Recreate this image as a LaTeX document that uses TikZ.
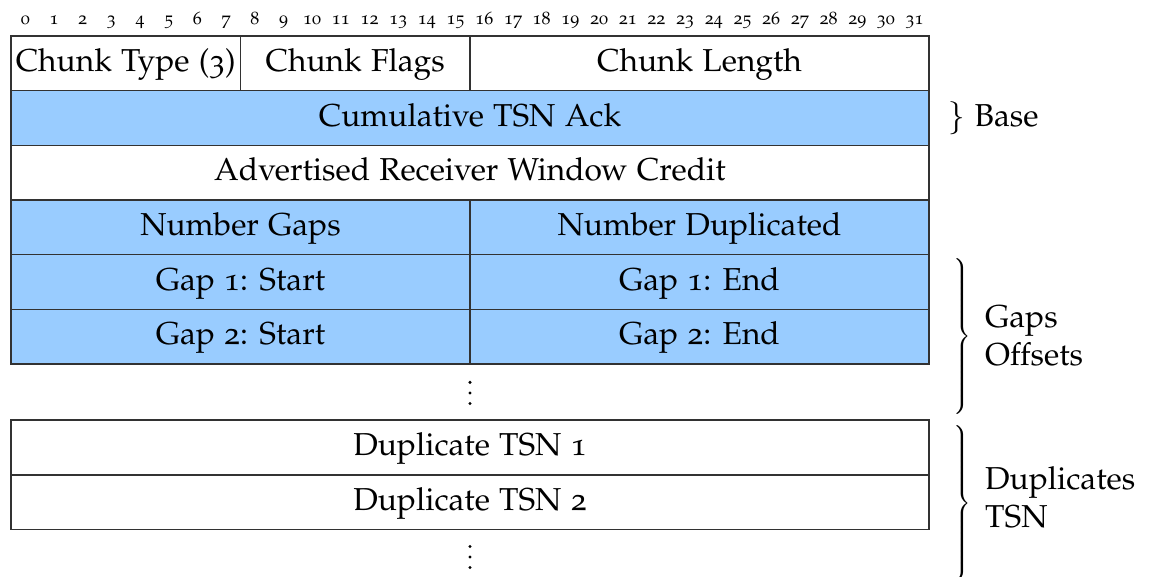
\documentclass[tikz,border=0pt]{standalone}
\usepackage[T1]{fontenc}
\usepackage[osf]{mathpazo}
\usepackage{graphicx}
\definecolor{fieldblue}{RGB}{153,204,255}
\definecolor{rulegray}{RGB}{50,50,50}
\newcommand\tallbrace[1]{\scalebox{2}{$\left.\vcenter{\hbox{\rule{0pt}{#1}}}\right\}$}}
\begin{document}
\begin{tikzpicture}[x=1pt,y=-1pt,
  cell/.style={draw=rulegray, line width=1.3pt, inner sep=0pt, anchor=center,
    font=\fontsize{31.7}{38}\selectfont, text height=16pt, text depth=0pt},
  shaded/.style={cell, fill=fieldblue},
  plain/.style={cell, fill=white},
  bitnum/.style={font=\fontsize{18}{20}\selectfont, inner sep=0pt, anchor=base},
  side/.style={font=\fontsize{31.7}{37.5}\selectfont, inner sep=0pt, align=left},
  dot/.style={circle, fill=black, inner sep=0pt, minimum size=3.4pt},
  bigbrace/.style={inner sep=0pt, anchor=west}]
\useasboundingbox (0,0) rectangle (1154,576);
\def\bw{28.6875}
\def\rh{54.667}
% bit numbers along the top
\foreach \i in {0,...,31}
  \node[bitnum] (b\i) at ({11+(\i+0.5)*\bw},24.5) {\i};
% a field spanning bits #2..#3 in the row whose top edge is at #4
\newcommand\fieldat[6]{%
  \node[#1, minimum width={(#3-#2)*\bw pt}, minimum height={\rh pt}]
    (#6) at ({11+(#2+#3)/2*\bw},{#4+\rh/2}) {#5};}
% header and base fields
\fieldat{plain}{0}{8}{36}{Chunk Type (3)}{ctype}
\fieldat{plain}{8}{16}{36}{Chunk Flags}{cflags}
\fieldat{plain}{16}{32}{36}{Chunk Length}{clen}
\fieldat{shaded}{0}{32}{90.667}{Cumulative TSN Ack}{cumack}
\fieldat{plain}{0}{32}{145.333}{Advertised Receiver Window Credit}{arwnd}
\fieldat{shaded}{0}{16}{200}{Number Gaps}{ngaps}
\fieldat{shaded}{16}{32}{200}{Number Duplicated}{ndups}
% gap ack blocks
\fieldat{shaded}{0}{16}{254.667}{Gap 1: Start}{g1s}
\fieldat{shaded}{16}{32}{254.667}{Gap 1: End}{g1e}
\fieldat{shaded}{0}{16}{309.333}{Gap 2: Start}{g2s}
\fieldat{shaded}{16}{32}{309.333}{Gap 2: End}{g2e}
\foreach \y [count=\k] in {382.3,393,403.5}
  \node[dot] (gdot\k) at (470,\y) {};
% duplicate TSNs
\fieldat{plain}{0}{32}{420}{Duplicate TSN 1}{d1}
\fieldat{plain}{0}{32}{475}{Duplicate TSN 2}{d2}
\foreach \y [count=\k] in {546.5,557,567.5}
  \node[dot] (ddot\k) at (470,\y) {};
% annotations on the right
\node[side, anchor=base west] (base) at (948,126) {$\}$ Base};
\node[bigbrace] (gbrace) at (951,336.5) {\tallbrace{79pt}};
\node[side, anchor=base west] (gtxt) at (985,365) {Gaps\\Offsets};
\node[bigbrace] (dbrace) at (951,503) {\tallbrace{79pt}};
\node[side, anchor=base west] (dtxt) at (985,527) {Duplicates\\TSN};
\end{tikzpicture}
\end{document}
